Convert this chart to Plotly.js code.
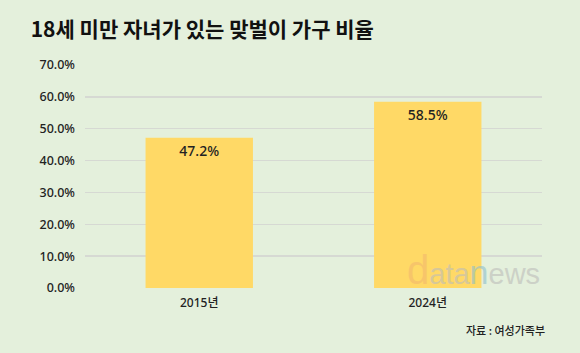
<!DOCTYPE html>
<html>
<head>
<meta charset="utf-8">
<script src="https://cdn.plot.ly/plotly-3.0.1.min.js"></script>
<style>
html,body{margin:0;padding:0;background:#E4F0DC;}
#chart{width:580px;height:353px;}
</style>
</head>
<body>
<div id="chart"></div>
<script>
const categories = ["2015년", "2024년"];
const values = [47.2, 58.5];
const valueLabels = ["47.2%", "58.5%"];
const yTickVals = [0, 10, 20, 30, 40, 50, 60, 70];
const yTickText = ["0.0%", "10.0%", "20.0%", "30.0%", "40.0%", "50.0%", "60.0%", "70.0%"];
const titleText = "18세 미만 자녀가 있는 맞벌이 가구 비율";
const sourceText = "자료 : 여성가족부";

const font = "'Noto Sans', 'Noto Sans CJK KR', sans-serif";
const kfont = "'Noto Sans CJK KR', sans-serif";

const traces = [{
  type: "bar",
  x: categories,
  y: values,
  text: valueLabels,
  textposition: "inside",
  insidetextanchor: "end",
  textfont: {family: font, size: 14, color: "#222", weight: 500},
  marker: {color: "#FFD966", line: {width: 0}},
  hoverinfo: "skip"
}];

const layout = {
  width: 580, height: 353,
  paper_bgcolor: "#E4F0DC",
  plot_bgcolor: "#E4F0DC",
  margin: {l: 85, r: 38, t: 65, b: 65},
  bargap: 0.53,
  showlegend: false,
  title: {text: "<b>" + titleText + "</b>", x: 0.053, xanchor: "left", y: 0.915, yanchor: "middle",
          font: {family: kfont, size: 21, color: "#111"}},
  xaxis: {type: "category", showgrid: false, zeroline: false, showline: false, ticks: "",
          ticklabelstandoff: 6,
          tickfont: {family: font, size: 12, color: "#222", weight: 500}, fixedrange: true},
  yaxis: {range: [0, 70], tickvals: yTickVals, ticktext: yTickText, showgrid: true,
          gridcolor: "#D6D9D3", gridwidth: 1.5, zeroline: false, showline: false, ticks: "",
          ticklabelstandoff: 9,
          tickfont: {family: font, size: 12.5, color: "#222", weight: 500}, fixedrange: true},
  uniformtext: {mode: "show", minsize: 8},
  annotations: [
    {text: sourceText, xref: "paper", yref: "paper", x: 1.01, y: -0.19, xanchor: "right", yanchor: "middle",
     showarrow: false, font: {family: kfont, size: 11, color: "#222", weight: 500}},
    {text: "<span style='color:#F2B86E;font-size:40px'>d</span><span style='color:#BDBDBA'>ata</span><span style='color:#8FBFCC;font-size:34px'>n</span><span style='color:#BDBDBA'>ews</span>",
     xref: "paper", yref: "paper", x: 0.999, y: -0.028, xanchor: "right", yanchor: "bottom",
     showarrow: false, opacity: 0.6, font: {family: "'Liberation Sans', sans-serif", size: 29, color: "#BDBDBA"}}
  ]
};

Plotly.newPlot("chart", traces, layout, {displayModeBar: false, staticPlot: true});
</script>
</body>
</html>
